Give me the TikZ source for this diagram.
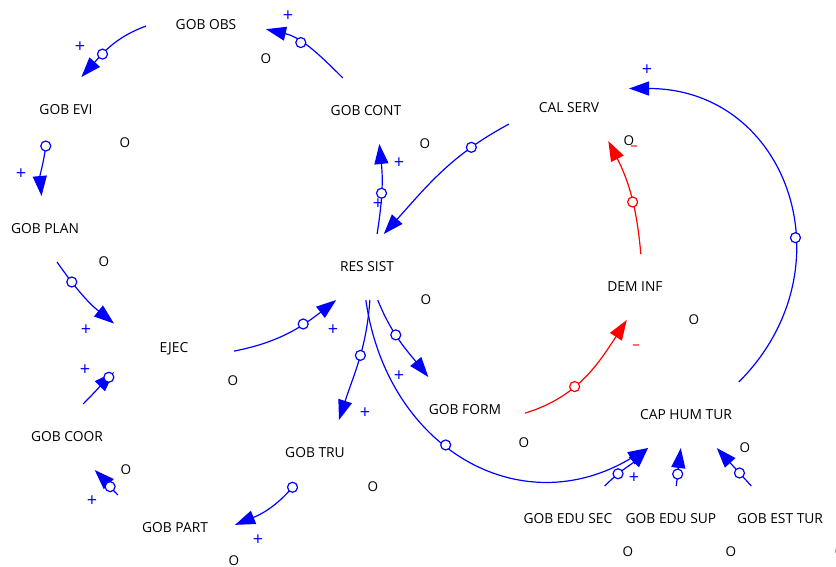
\documentclass[tikz,border=0pt]{standalone}
\usepackage{fontspec}
\setmainfont{Open Sans}
\usetikzlibrary{arrows.meta}

\tikzset{
  var/.style={minimum width=120pt, minimum height=66pt, inner sep=0pt, outer sep=0pt,
    font=\fontsize{13.8}{16}\selectfont},
  link/.style={color=blue, line width=1.2pt, -{Triangle[length=20pt,width=14pt]}},
  neglink/.style={link, color=red},
  handle/.style={circle, draw, fill=white, inner sep=0pt, minimum size=10pt},
  loopmark/.style={inner sep=0pt, font=\fontsize{13.5}{16}\selectfont},
  signplus/.style={inner sep=0pt, text=blue, font=\fontsize{18}{18}\selectfont},
  signminus/.style={inner sep=0pt, text=red, font=\fontsize{15}{15}\selectfont}
}

\begin{document}
\begin{tikzpicture}[x=1pt,y=1pt]
  \useasboundingbox (0,0) rectangle (836,-566);

  % variables
  \node[var] (obs)  at (206,-25)  {GOB OBS};
  \node[var] (evi)  at (66,-110)  {GOB EVI};
  \node[var] (cont) at (366,-111) {GOB CONT};
  \node[var] (cal)  at (569,-108) {CAL SERV};
  \node[var] (plan) at (45,-229)  {GOB PLAN};
  \node[var] (res)  at (367,-267) {RES SIST};
  \node[var] (dem)  at (635,-287) {DEM INF};
  \node[var] (ejec) at (174,-349) {EJEC};
  \node[var] (form) at (465,-410) {GOB FORM};
  \node[var] (cap)  at (686,-415) {CAP HUM TUR};
  \node[var] (coor) at (67,-437)  {GOB COOR};
  \node[var] (tru)  at (315,-453) {GOB TRU};
  \node[var] (part) at (175,-528) {GOB PART};
  \node[var] (sec)  at (568,-519) {GOB EDU SEC};
  \node[var] (sup)  at (671,-519) {GOB EDU SUP};
  \node[var] (est)  at (780,-519) {GOB EST TUR};

  % causal links
  \draw[link] (obs.181) to[out=200,in=48] node[handle,pos=.64] (h1) {} (evi.65);
  \draw[link] (cont.125) to[out=135,in=-13] node[handle,pos=.6] (h2) {} (obs.-4);
  \draw[link] (evi.239) to[out=263,in=95] node[handle,pos=.05] (h3) {} (plan.96);
  \draw[link] (plan.290) to[out=305,in=141] node[handle,pos=.28] (h4) {} (ejec.157);
  \draw[link] (coor.64) to[out=45,in=225] node[handle,pos=.85] (h5) {} (ejec.201);
  \draw[link] (part.150) to[out=134,in=315] node[handle,pos=.32] (h6) {} (coor.310);
  \draw[link] (tru.237) to[out=230,in=22] node[handle,pos=.02] (h7) {} (part.3);
  \draw[link] (ejec.358) to[out=11,in=218] node[handle,pos=.66] (h8) {} (res.227);
  \draw[link] (res.73) to[out=81,in=276] node[handle,pos=.45] (h9) {} (cont.292);
  \draw[link] (cal.195) to[out=208,in=48] node[handle,pos=.25] (h10) {} (res.63);
  \draw[link] (res.275) to[out=266,in=72] node[handle,pos=.45] (h11) {} (tru.54);
  \draw[link] (res.288) to[out=292,in=129] node[handle,pos=.42] (h12) {} (form.138);
  \draw[link] (res.268) to[out=278,in=211,looseness=1.2] node[handle,pos=.43] (h13) {} (cap.221);
  \draw[link] (sec.42) to[out=45,in=225] node[handle,pos=.3] (h14) {} (cap.221);
  \draw[link] (sup.81) to[out=83,in=263] node[handle,pos=.3] (h15) {} (cap.261);
  \draw[link] (est.131) to[out=132,in=312] node[handle,pos=.33] (h16) {} (cap.313);
  \draw[link] (cap.32) to[out=45,in=0,looseness=1.3] node[handle,pos=.38] (h17) {} (cal.18);
  \draw[neglink] (form.357) to[out=17,in=237] node[handle,pos=.4] (h18) {} (dem.256);
  \draw[neglink] (dem.80) to[out=95,in=297] node[handle,pos=.44] (h19) {} (cal.320);

  % polarities
  \foreach \x/\y [count=\i] in {80/47, 288/16, 21/174, 86/330, 85/370, 92/501, 258/540,
      333/330, 399/163, 378/204, 365/413, 399/376, 634/478, 647/70}
    \node[signplus] (p\i) at (\x,-\y) {+};
  \node[signminus] (m1) at (636,-347) {--};
  \node[signminus] (m2) at (634,-148) {--};

  % loop markers
  \foreach \x/\y [count=\i] in {266/59, 125/143, 104/262, 425/144, 629/141, 426/300,
      694/320, 233/381, 126/470, 373/487, 524/443, 745/448, 234/561, 628/552, 731/552, 840/552}
    \node[loopmark] (o\i) at (\x,-\y) {O};

\end{tikzpicture}
\end{document}
